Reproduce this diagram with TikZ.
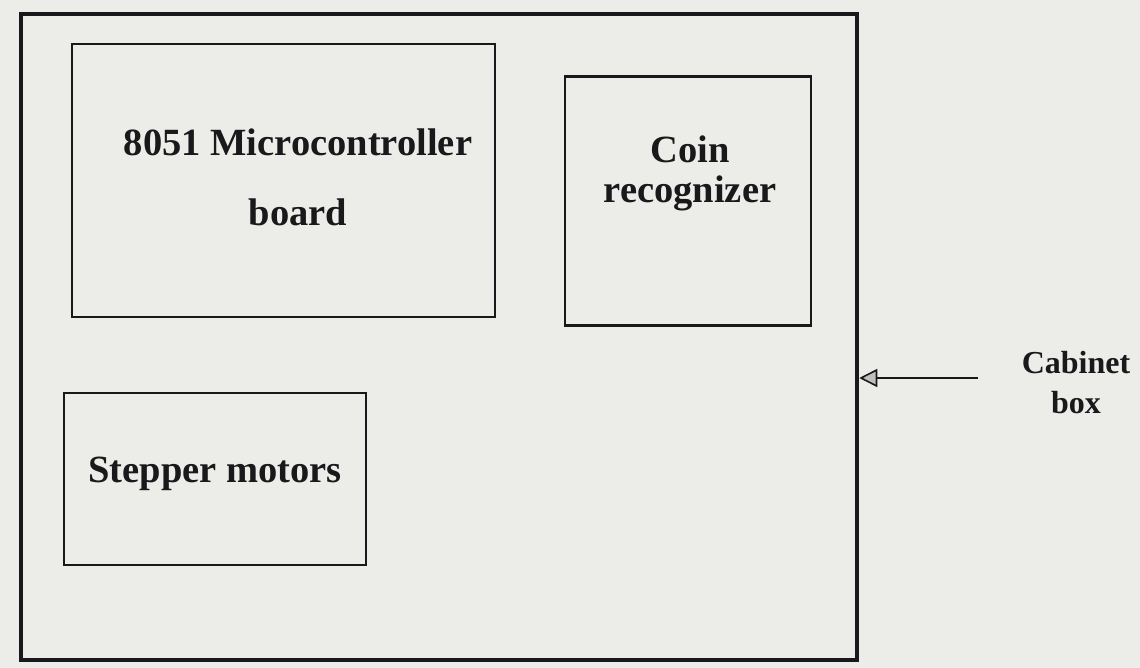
\documentclass[tikz,border=0pt]{standalone}
\usepackage{fontspec}
\setmainfont{Liberation Serif}
\usetikzlibrary{arrows.meta}
\definecolor{paper}{RGB}{236,236,233}
\definecolor{ink}{RGB}{25,25,28}
\begin{document}
\begin{tikzpicture}[x=1pt,y=-1pt,
  blockbox/.style={draw=ink,line width=2.5pt,rectangle,inner sep=0pt},
  outerbox/.style={draw=ink,line width=4.5pt,rectangle,inner sep=0pt},
  label/.style={font=\fontsize{38.5}{46}\selectfont\bfseries,text=ink,anchor=base,inner sep=0pt},
  sidelabel/.style={font=\fontsize{32}{38}\selectfont\bfseries,text=ink,anchor=base,inner sep=0pt}]
\fill[paper] (0,0) rectangle (1140,668);
\useasboundingbox (0,0) rectangle (1140,668);
\node[outerbox,minimum width=836pt,minimum height=646pt] (cabinet) at (439,337) {};
\node[blockbox,minimum width=423pt,minimum height=273pt] (mcu) at (283.5,180.5) {};
\node[blockbox,minimum width=246pt,minimum height=249pt] (coin) at (688,201) {};
\node[blockbox,minimum width=302pt,minimum height=172pt] (stepper) at (215,479) {};
\node[label] (mcu1) at (298,156) {8051 Microcontroller};
\node[label] (mcu2) at (298,226) {board};
\node[label] (coin1) at (690,163) {Coin};
\node[label] (coin2) at (690,203) {recognizer};
\node[label] (step1) at (215,482) {Stepper motors};
\node[sidelabel] (cab1) at (1076,373) {Cabinet};
\node[sidelabel] (cab2) at (1076,413) {box};
\coordinate (arrowstart) at (978,378);
\draw[draw=ink,line width=2.6pt,-{Triangle[length=18pt,width=18pt,fill=gray!50,line width=1.6pt]}]
  (arrowstart) -- (cabinet.east |- arrowstart);
\end{tikzpicture}
\end{document}
